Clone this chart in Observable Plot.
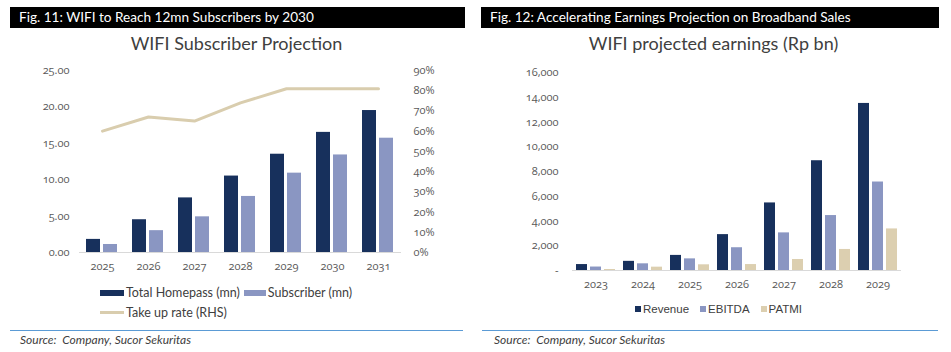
<!DOCTYPE html>
<html><head><meta charset="utf-8">
<script src="https://cdn.jsdelivr.net/npm/d3@7"></script>
<script src="https://cdn.jsdelivr.net/npm/@observablehq/plot@0.6"></script>
<style>
body{margin:0;background:#fff;width:951px;height:352px;position:relative;overflow:hidden;font-family:Lato,"Open Sans",sans-serif;}
.abs{position:absolute}
.hdr{background:#000;color:#fff;font-size:13.6px;line-height:21px;height:21px;box-sizing:border-box;padding-left:9px;white-space:nowrap}
.ttl{font-size:18px;color:#404040;text-align:center;white-space:nowrap}
.src{font-size:12px;font-style:italic;color:#404040;white-space:nowrap}
.sep{height:0;border-top:1.5px solid #5b9bd5}
.lg{font-size:12.5px;color:#404040;white-space:nowrap;display:flex;align-items:center}
.lg2{font-family:"Liberation Sans",Arial,sans-serif;font-size:11.5px;color:#404040;white-space:nowrap;display:flex;align-items:center}
svg text{font-variant-numeric:oldstyle-nums}
</style></head><body>
<script>
// ---- Fig. 11 data ----
const years1 = ["2025","2026","2027","2028","2029","2030","2031"];
const homepass = [1.8, 4.5, 7.5, 10.5, 13.5, 16.5, 19.5];
const subscriber = [1.1, 3.0, 4.9, 7.7, 10.9, 13.4, 15.7];
const takeUpRate = [0.60, 0.67, 0.65, 0.74, 0.81, 0.81, 0.81];
const series1 = ["Total Homepass (mn)", "Subscriber (mn)"];
const lineName1 = "Take up rate (RHS)";

// ---- Fig. 12 data ----
const years2 = ["2023","2024","2025","2026","2027","2028","2029"];
const revenue = [480, 740, 1220, 2900, 5460, 8870, 13500];
const ebitda = [280, 540, 940, 1840, 3040, 4440, 7150];
const patmi = [80, 270, 460, 480, 890, 1700, 3360];
const series2 = ["Revenue", "EBITDA", "PATMI"];

const navy = "#17305c", lilac = "#8a96c2", beige = "#dccfb0", beigeLine = "#d9cdae";

function add(el, css){ const d=document.createElement("div"); d.className="abs"; Object.assign(d.style, css); if(el instanceof Node) d.appendChild(el); else d.innerHTML = el; document.body.appendChild(d); return d; }

// headers
add(`<div class="hdr" style="width:455px">Fig. 11: WIFI to Reach 12mn Subscribers by 2030</div>`, {left:"10px", top:"7px"});
add(`<div class="hdr" style="width:458px">Fig. 12: Accelerating Earnings Projection on Broadband Sales</div>`, {left:"481px", top:"7px"});
add(`<div class="ttl" style="width:475px">WIFI Subscriber Projection</div>`, {left:"-1px", top:"32px"});
add(`<div class="ttl" style="width:475px">WIFI projected earnings (Rp bn)</div>`, {left:"476px", top:"32px"});

const axisStyle = {fontFamily:"'Open Sans', sans-serif", fontSize:"11px", color:"#595959", background:"transparent", overflow:"visible"};

// Left bars
const d1 = years1.flatMap((y,i)=>[
  {year:y, series:series1[0], value:homepass[i]},
  {year:y, series:series1[1], value:subscriber[i]}]);
const p1 = Plot.plot({
  width:475, height:220, marginLeft:77, marginRight:72, marginTop:10, marginBottom:28,
  style:axisStyle,
  fx:{domain:years1, padding:0, axis:"bottom", label:null, tickSize:0, tickPadding:10},
  x:{domain:series1, axis:null, paddingInner:0.15, paddingOuter:0.37},
  y:{domain:[0,25], ticks:5, tickSize:0, tickPadding:10, label:null, tickFormat:d3.format(".2f")},
  color:{domain:series1, range:[navy, lilac]},
  marks:[
    Plot.ruleY([0], {stroke:"#d9d9d9", strokeWidth:1.2}),
    Plot.barY(d1, {fx:"year", x:"series", y:"value", fill:"series"})
  ]
});
add(p1, {left:"0px", top:"60px"});

// Left line (right axis)
const l1 = years1.map((y,i)=>({year:y, rate:takeUpRate[i]}));
const p1b = Plot.plot({
  width:475, height:220, marginLeft:77, marginRight:72, marginTop:10, marginBottom:28,
  style:axisStyle,
  x:{type:"point", domain:years1, padding:0.5, axis:null},
  y:{domain:[0,0.9], ticks:9, axis:"right", tickSize:0, tickPadding:10, label:null, tickFormat:d=>Math.round(d*100)+"%"},
  marks:[ Plot.line(l1, {x:"year", y:"rate", stroke:beigeLine, strokeWidth:3}) ]
});
add(p1b, {left:"0px", top:"60px"});

// Left legend
add(`<div class="lg"><span style="display:inline-block;width:24px;height:6px;background:${navy};margin-right:2px"></span>${series1[0]}<span style="display:inline-block;width:22px;height:6px;background:${lilac};margin:0 2px 0 4px"></span>${series1[1]}</div>`, {left:"100px", top:"285px"});
add(`<div class="lg"><span style="display:inline-block;width:24px;height:2.5px;background:${beigeLine};margin-right:2px"></span>${lineName1}</div>`, {left:"100px", top:"305px"});

// Right bars
const d2 = years2.flatMap((y,i)=>[
  {year:y, series:series2[0], value:revenue[i]},
  {year:y, series:series2[1], value:ebitda[i]},
  {year:y, series:series2[2], value:patmi[i]}]);
const p2 = Plot.plot({
  width:475, height:235, marginLeft:93, marginRight:47, marginTop:12, marginBottom:25,
  style:axisStyle,
  fx:{domain:years2, padding:0, axis:"bottom", label:null, tickSize:0, tickPadding:10},
  x:{domain:series2, axis:null, paddingInner:0.24, paddingOuter:0.27},
  y:{domain:[0,16000], ticks:8, tickSize:0, tickPadding:14, label:null, tickFormat:d=>d===0?"-":d3.format(",")(d)},
  color:{domain:series2, range:[navy, lilac, beige]},
  marks:[
    Plot.ruleY([0], {stroke:"#d9d9d9", strokeWidth:1.2}),
    Plot.barY(d2, {fx:"year", x:"series", y:"value", fill:"series"})
  ]
});
add(p2, {left:"476px", top:"60px"});

// Right legend
const sw = c => `<span style="display:inline-block;width:6px;height:6px;background:${c};margin-right:2px"></span>`;
const gap = `<span style="display:inline-block;width:11px"></span>`;
add(`<div class="lg2">${sw(navy)}${series2[0]}${gap}${sw(lilac)}${series2[1]}${gap}${sw(beige)}${series2[2]}</div>`, {left:"635px", top:"303px"});

// separators + source
add(`<div class="sep" style="width:453px"></div>`, {left:"10px", top:"330px"});
add(`<div class="sep" style="width:456px"></div>`, {left:"482px", top:"330px"});
add(`<div class="src">Source:&nbsp; Company, Sucor Sekuritas</div>`, {left:"20px", top:"332px"});
add(`<div class="src">Source:&nbsp; Company, Sucor Sekuritas</div>`, {left:"494px", top:"332px"});
</script>
</body></html>
